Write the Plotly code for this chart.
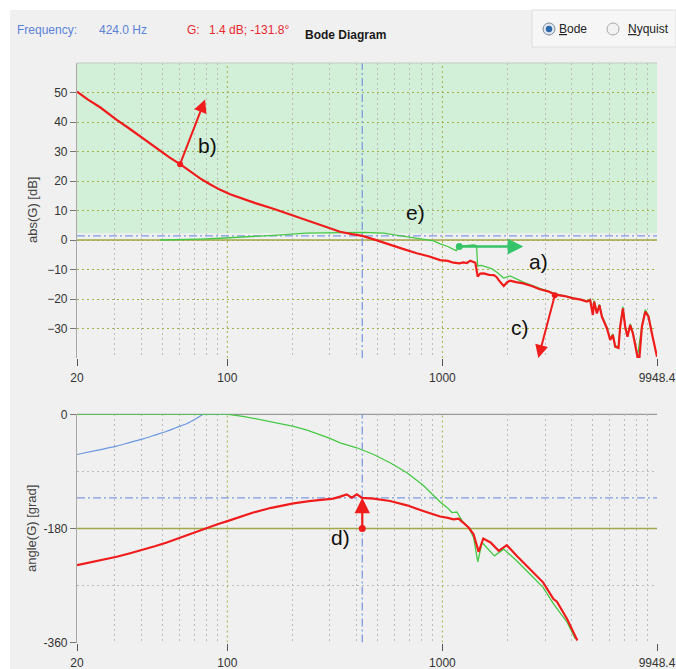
import numpy as np
import plotly.graph_objects as go

W, H = 676, 669

# ---------------- data ----------------
x_ticks = [20, 100, 1000, 9948.4]
x_ticktext = ["20", "100", "1000", "9948.4"]
x_minor = [30, 40, 50, 60, 70, 80, 90, 200, 300, 400, 500, 600, 700, 800, 900,
           2000, 3000, 4000, 5000, 6000, 7000, 8000, 9000]
x_major_grid = [100, 1000]
f_min, f_max = 20, 9948.4

mag_ticks = [50, 40, 30, 20, 10, 0, -10, -20, -30]
mag_range = [-40, 60]
phase_ticks = [0, -180, -360]
phase_tick_text = ["0", "-180", "-360"]
phase_minor = [-90, -270]
phase_range = [-360, 0]

cursor_freq = 424.0
cursor_db = 1.4
cursor_deg = -131.8
band_low_db = 2.3          # lower edge of shaded (green) band
ref_db = 0                 # 0 dB reference
ref_deg = -180             # -180 deg reference

# magnitude of G (red)
mag_f = [20, 22.5, 25.6, 28, 30.6, 35, 39.3, 44, 48.6, 54, 60.3, 67, 74.7, 83, 92.7, 103, 114.6,
         135, 163.7, 195, 234, 280, 334.5,
         380, 424, 480, 571, 660, 760, 870, 976, 1060, 1126, 1200, 1250, 1300, 1348, 1400,
         1423, 1459, 1500, 1558, 1650, 1733, 1790, 1827, 1928, 2000, 2064, 2200, 2378,
         2600, 2838, 3100, 3343, 3700, 4062, 4400, 4694,
         4864, 5006, 5078, 5227, 5374, 5514, 5818, 6028, 6204, 6358, 6588, 6708,
         6904, 7076, 7252, 7468, 7688, 7878, 8072, 8248, 8464, 8770, 9084, 9420,
         9760, 9948.4]
mag_db = [50.3, 47.6, 45.0, 42.8, 40.7, 37.8, 35.1, 32.5, 30.2, 27.9, 25.7, 23.2, 20.9, 18.9, 17.0, 15.5, 14.3,
          12.5, 10.6, 8.7, 6.8, 4.8, 2.8,
          2.0, 1.4, 0.2, -1.7, -3.1, -4.5, -5.6, -6.8, -7.1, -7.7, -7.9, -7.6, -7.8, -7.0, -7.4,
          -7.7, -12.4, -11.4, -11.3, -11.8, -11.9, -12.6, -13.6, -15.6, -14.3, -13.8, -14.3, -14.7,
          -15.6, -16.7, -17.4, -18.5, -19.0, -19.8, -20.2, -20.9,
          -20.4, -25.4, -20.9, -24.9, -22.1, -26.0, -29.9, -33.9, -32.2, -36.2, -36.6, -29.4,
          -23.2, -29.4, -32.8, -28.8, -31.7, -35.1, -39.6, -39.6, -29.4, -24.3, -26.0, -31.7,
          -36.2, -39.6]

# magnitude (green)
mag2_f = [48.6, 60.3, 74.7, 92.7, 114.6, 163.7, 234, 334.5, 424, 532, 684, 800, 909,
          976, 1060, 1126, 1160, 1198, 1300, 1390, 1441, 1459, 1520, 1600, 1700, 1798,
          1928, 2064, 2378, 2838, 3343, 4062, 4694, 4864, 5006, 5078, 5227, 5374, 5514,
          5818, 6028, 6204, 6358, 6588, 6708, 6904, 7076, 7252, 7468, 7688, 7878, 8072,
          8464, 8770, 9084, 9420]
mag2_db = [0.0, 0.1, 0.3, 0.6, 0.9, 1.6, 2.3, 2.6, 2.6, 2.3, 1.1, 0.5, -0.3,
           -1.3, -2.2, -3.2, -3.6, -2.2, -2.0, -1.7, -1.9, -8.8, -8.6, -9.2, -9.8, -11.0,
           -12.9, -12.2, -14.3, -16.4, -18.2, -19.6, -20.6, -20.1, -25.0, -20.5, -24.6,
           -21.8, -25.6, -29.5, -33.5, -31.8, -35.8, -36.2, -29.0, -22.6, -29.0, -32.4,
           -28.4, -31.3, -34.7, -39.4, -29.0, -23.6, -25.6, -31.3]

# phase of G (red)
ph_f = [20, 25, 30.6, 35, 40.6, 46, 52.3, 58, 65.0, 72, 80.2, 90, 100.9, 115, 132, 160, 203,
        240, 270, 311, 334.5, 359, 379,
        400, 424, 479, 571, 684, 814, 976, 1060, 1126, 1190, 1250, 1324, 1396, 1474,
        1549, 1674, 1827, 1992, 2214, 2550, 2938, 3285, 3408, 3798, 4240]
ph_deg = [-237.9, -231.5, -224.8, -219.5, -213.8, -208.2, -202.2, -196.6, -190.7, -185.0,
          -179.2, -173.5, -168.2, -161.5, -155.0, -147.5, -140.4,
          -137.0, -135.0, -133.0, -129.9, -126.3, -131.4, -126.3, -131.8, -133.0, -136.8,
          -143.6, -152.5, -161.3, -163.5, -165.6, -164.5, -171.0, -178.6, -189.2,
          -217.0, -195.9, -202.2, -215.4, -206.4, -223.3, -244.2, -265.1, -291.4,
          -295.6, -322.8, -356.9]

# phase (green)
ph2_f = [20, 50, 100.9, 120, 142, 170, 203, 235, 270, 300, 334.5, 400, 479, 571, 684, 814,
         976, 1060, 1107, 1167, 1236, 1324, 1396, 1460, 1529, 1744, 1928, 2214, 2550, 2938,
         3285, 3798, 4146]
ph2_deg = [0, 0, 0, -3.5, -8.3, -13.5, -18.9, -25.0, -31.9, -38.0, -45.0, -52.8, -63.4,
           -76.4, -92.1, -112.1, -138.4, -148.0, -155.0, -154.1, -168.2, -178.6, -194.3,
           -232.7, -202.2, -223.3, -212.7, -231.1, -252.0, -273.0, -299.2, -328.0, -354.2]

# phase (blue)
ph3_f = [20, 25, 30.6, 35, 40.6, 46, 52.3, 58, 65.0, 71, 77.4, 100]
ph3_deg = [-63.4, -56.5, -50.3, -44.6, -38.7, -32.8, -26.7, -20.8, -14.6, -7.5, 0, 0]

# annotation points (freq, value)
arrow_b = dict(tail=(60.3, 25.7), head=(78.8, 47.6))
arrow_a = dict(tail=(1198, -2.2), head=(2378, -2.2))
arrow_c = dict(tail=(3332, -18.7), head=(2792, -40.0))
arrow_d = dict(tail=(424.0, -180.0), head=(424.0, -131.8))
labels_mag = [("b)", 81, 32.0), ("e)", 747, 9.2), ("a)", 2787, -7.2), ("c)", 2294, -29.6)]
labels_ph = [("d)", 334.5, -194.5)]

# ---------------- style ----------------
RED = "#f01c1c"
GREEN = "#45c945"
GREEN_ARROW = "#35c46a"
BLUE = "#6b98e0"
CURSOR = "#7d9be0"
OLIVE = "#a3a84a"
OLIVE_GRID = "#a6b048"
GRAY_GRID = "#bcbcbc"
BG_LOW = "#effdfc"
BG_BAND = "#d2efd8"
PAGE = "#f0f0f0"
FONT = "Liberation Sans"


def px(x):
    return x / W


def py(y):
    return 1 - y / H


fig = go.Figure()

dom_x = [px(77), px(657)]
dom_top = [py(358), py(63)]
dom_bot = [py(642.5), py(414.3)]


def vgrid(xref, yref, yr):
    xs, ys = [], []
    for g in x_major_grid:
        xs += [g, g, None]
        ys += [yr[0], yr[1], None]
    fig.add_trace(go.Scatter(x=xs, y=ys, xaxis=xref, yaxis=yref, mode="lines",
                             line=dict(color=OLIVE_GRID, width=1, dash="2px,3px"),
                             hoverinfo="skip", showlegend=False))


vgrid("x", "y", mag_range)
vgrid("x2", "y2", phase_range)

# reference lines
fig.add_trace(go.Scatter(x=[f_min, f_max], y=[ref_db, ref_db], xaxis="x", yaxis="y",
                         mode="lines", line=dict(color=OLIVE, width=1.5),
                         hoverinfo="skip", showlegend=False))
fig.add_trace(go.Scatter(x=[f_min, f_max], y=[ref_deg, ref_deg], xaxis="x2", yaxis="y2",
                         mode="lines", line=dict(color=OLIVE, width=1.5),
                         hoverinfo="skip", showlegend=False))

# cursor lines
for xa, ya, val, yr in [("x", "y", cursor_db, mag_range), ("x2", "y2", cursor_deg, phase_range)]:
    fig.add_trace(go.Scatter(x=[f_min, f_max], y=[val, val], xaxis=xa, yaxis=ya, mode="lines",
                             line=dict(color=CURSOR, width=1.3, dash="8px,3px,2px,3px"),
                             hoverinfo="skip", showlegend=False))
    fig.add_trace(go.Scatter(x=[cursor_freq, cursor_freq], y=yr, xaxis=xa, yaxis=ya, mode="lines",
                             line=dict(color=CURSOR, width=1.3, dash="8px,3px,2px,3px"),
                             hoverinfo="skip", showlegend=False))

# curves
fig.add_trace(go.Scatter(x=ph3_f, y=ph3_deg, xaxis="x2", yaxis="y2", mode="lines",
                         line=dict(color=BLUE, width=1.2, shape="spline", smoothing=0.6),
                         showlegend=False))
fig.add_trace(go.Scatter(x=mag2_f, y=mag2_db, xaxis="x", yaxis="y", mode="lines",
                         line=dict(color=GREEN, width=1.3), showlegend=False))
fig.add_trace(go.Scatter(x=ph2_f, y=ph2_deg, xaxis="x2", yaxis="y2", mode="lines",
                         line=dict(color=GREEN, width=1.3), showlegend=False))
fig.add_trace(go.Scatter(x=mag_f, y=mag_db, xaxis="x", yaxis="y", mode="lines",
                         line=dict(color=RED, width=2.2), showlegend=False))
fig.add_trace(go.Scatter(x=ph_f, y=ph_deg, xaxis="x2", yaxis="y2", mode="lines",
                         line=dict(color=RED, width=2.2), showlegend=False))

# tail dots
fig.add_trace(go.Scatter(x=[arrow_b["tail"][0], arrow_c["tail"][0]],
                         y=[arrow_b["tail"][1], arrow_c["tail"][1]], xaxis="x", yaxis="y",
                         mode="markers", marker=dict(color=RED, size=6), showlegend=False))
fig.add_trace(go.Scatter(x=[arrow_a["tail"][0]], y=[arrow_a["tail"][1]], xaxis="x", yaxis="y",
                         mode="markers", marker=dict(color=GREEN_ARROW, size=7), showlegend=False))
fig.add_trace(go.Scatter(x=[arrow_d["tail"][0]], y=[arrow_d["tail"][1]], xaxis="x2", yaxis="y2",
                         mode="markers", marker=dict(color=RED, size=7), showlegend=False))

annotations = []


def arrow(a, xref, yref, color, width, size):
    annotations.append(dict(
        x=np.log10(a["head"][0]), y=a["head"][1], ax=np.log10(a["tail"][0]), ay=a["tail"][1],
        xref=xref, yref=yref, axref=xref, ayref=yref, text="", showarrow=True,
        arrowhead=2, arrowsize=size, arrowwidth=width, arrowcolor=color, standoff=0))


arrow(arrow_b, "x", "y", RED, 2, 1.3)
arrow(arrow_a, "x", "y", GREEN_ARROW, 2.6, 1.2)
arrow(arrow_c, "x", "y", RED, 2, 1.3)
arrow(arrow_d, "x2", "y2", RED, 2.2, 1.4)

for t, f, v in labels_mag:
    annotations.append(dict(x=np.log10(f), y=v, xref="x", yref="y", text=t, showarrow=False,
                            font=dict(family=FONT, size=21, color="#111")))
for t, f, v in labels_ph:
    annotations.append(dict(x=np.log10(f), y=v, xref="x2", yref="y2", text=t, showarrow=False,
                            font=dict(family=FONT, size=21, color="#111")))

# axis titles
annotations.append(dict(x=px(32), y=py(210), xref="paper", yref="paper", text="abs(G) [dB]",
                        textangle=-90, showarrow=False, xanchor="center", yanchor="middle",
                        font=dict(family=FONT, size=13, color="#444")))
annotations.append(dict(x=px(31), y=py(529), xref="paper", yref="paper", text="angle(G) [grad]",
                        textangle=-90, showarrow=False, xanchor="center", yanchor="middle",
                        font=dict(family=FONT, size=13, color="#444")))

# header
HB = "#5b82d8"
HR = "#e8282f"
for t, x, y, c in [("Frequency:", 15, 30, HB), (f"{cursor_freq:.1f} Hz", 97, 30, HB),
                   ("G:", 185, 30, HR), (f"{cursor_db:.1f} dB; {cursor_deg:.1f}°", 207, 30, HR),
                   ("<b>Bode Diagram</b>", 303, 35, "#1a1a1a"),
                   ("<u>B</u>ode", 557, 29, "#222"), ("<u>N</u>yquist", 626, 29, "#222")]:
    annotations.append(dict(x=px(x), y=py(y), xref="paper", yref="paper", text=t,
                            xanchor="left", yanchor="middle", showarrow=False,
                            font=dict(family=FONT, size=12, color=c)))

shapes = [
    # gray panel
    dict(type="rect", xref="paper", yref="paper", x0=px(10), x1=1, y0=0, y1=py(10),
         fillcolor=PAGE, line=dict(width=0), layer="below"),
    # radio box
    dict(type="rect", xref="paper", yref="paper", x0=px(532), x1=px(676), y0=py(47), y1=py(10),
         fillcolor="#f6f6f6", line=dict(color="#dedede", width=1), layer="below"),
    # green band
    dict(type="rect", xref="x domain", yref="y", x0=0, x1=1, y0=band_low_db, y1=mag_range[1],
         fillcolor=BG_BAND, line=dict(width=0), layer="below"),
    # borders
    dict(type="line", xref="x domain", yref="y domain", x0=0, x1=1, y0=1, y1=1,
         line=dict(color="#c4ccc4", width=1)),
    dict(type="line", xref="x2 domain", yref="y2 domain", x0=0, x1=1, y0=1, y1=1,
         line=dict(color="#9a9a9a", width=1.2), layer="below"),
    # radio buttons
    dict(type="circle", xref="paper", yref="paper", x0=px(543), x1=px(555), y0=py(35), y1=py(23),
         fillcolor="#dfe8f2", line=dict(color="#7c8a98", width=1)),
    dict(type="circle", xref="paper", yref="paper", x0=px(546), x1=px(552), y0=py(32), y1=py(26),
         fillcolor="#2b6cb0", line=dict(color="#1f4f85", width=0.5)),
    dict(type="circle", xref="paper", yref="paper", x0=px(607), x1=px(619), y0=py(35), y1=py(23),
         fillcolor="#f2f2f2", line=dict(color="#a8a8a8", width=1)),
]

tickfont = dict(family=FONT, size=12, color="#333")
xcommon = dict(type="log", range=[np.log10(f_min), np.log10(f_max)], domain=dom_x,
               tickmode="array", tickvals=x_ticks, ticktext=x_ticktext, ticks="outside",
               ticklen=7, tickwidth=1.3, tickcolor="#555", showgrid=False, zeroline=False,
               showline=False, tickfont=tickfont, ticklabelstandoff=2, automargin=False,
               minor=dict(tickmode="array", tickvals=x_minor, showgrid=True, gridcolor=GRAY_GRID,
                          griddash="2px,3px", gridwidth=1, ticks=""))

fig.update_layout(
    width=W, height=H, autosize=False,
    margin=dict(l=0, r=0, t=0, b=0, autoexpand=False),
    paper_bgcolor="white", plot_bgcolor=BG_LOW,
    showlegend=False,
    xaxis=dict(anchor="y", **xcommon),
    xaxis2=dict(anchor="y2", **xcommon),
    yaxis=dict(domain=dom_top, anchor="x", range=mag_range, tickmode="array", tickvals=mag_ticks,
               ticks="outside", ticklen=6, tickcolor="#777", showgrid=True, gridcolor=OLIVE_GRID,
               griddash="2px,3px", gridwidth=1, zeroline=False, showline=True, automargin=False,
               linecolor="#a8a8a8", linewidth=1.2, tickfont=tickfont),
    yaxis2=dict(domain=dom_bot, anchor="x2", range=phase_range, tickmode="array",
                tickvals=phase_ticks, ticktext=phase_tick_text, ticks="outside", ticklen=6,
                tickcolor="#777", showgrid=False, zeroline=False, showline=True, automargin=False,
                linecolor="#a8a8a8", linewidth=1.2, tickfont=tickfont,
                minor=dict(tickmode="array", tickvals=phase_minor, showgrid=True,
                           gridcolor=GRAY_GRID, griddash="2px,3px", gridwidth=1, ticks="")),
    annotations=annotations,
    shapes=shapes,
)

fig.write_html("out.html", config={"displayModeBar": False, "responsive": False},
               post_script="document.body.style.margin='0';document.body.style.overflow='hidden';")
